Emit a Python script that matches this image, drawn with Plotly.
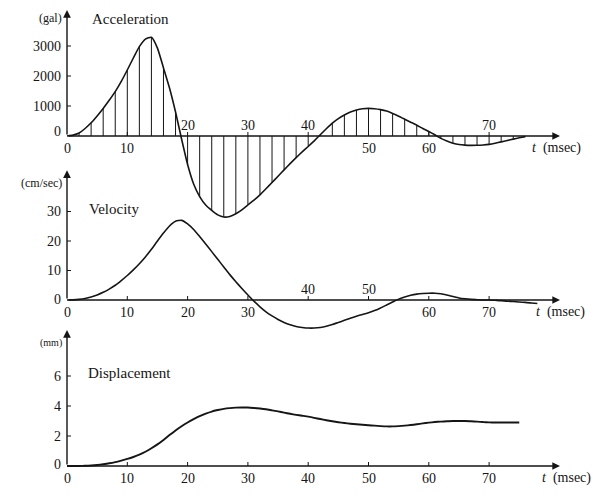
import plotly.graph_objects as go

# ---------------- data ----------------
acc_t = list(range(0, 77))
acc_gal = [0, 30, 100, 250, 440, 670, 920, 1190, 1480, 1820,
           2200, 2600, 2980, 3230, 3290, 2930, 2270, 1600, 800, -100,
           -950, -1600, -2020, -2300, -2480, -2630, -2700, -2680, -2590, -2460,
           -2300, -2140, -1960, -1760, -1550, -1340, -1130, -920, -720, -530,
           -350, -160, 40, 240, 430, 580, 700, 800, 870, 910,
           920, 910, 880, 830, 750, 660, 560, 460, 360, 250,
           150, 40, -80, -170, -240, -285, -305, -312, -308, -298,
           -278, -240, -195, -150, -105, -60, -20]

vel_t = list(range(0, 79))
vel_cms = [0, 0.05, 0.2, 0.5, 1.0, 1.7, 2.6, 3.7, 5.0, 6.6,
           8.3, 10.2, 12.3, 14.6, 17.2, 20.0, 22.7, 25.1, 26.7, 27.0,
           25.8, 23.9, 21.5, 19.0, 16.4, 13.8, 11.2, 8.6, 6.2, 3.9,
           1.7, -0.4, -2.3, -4.0, -5.4, -6.6, -7.6, -8.4, -9.0, -9.3,
           -9.5, -9.5, -9.3, -8.9, -8.3, -7.6, -6.9, -6.2, -5.5, -4.9,
           -4.3, -3.6, -2.7, -1.7, -0.7, 0.3, 1.0, 1.6, 2.0, 2.2,
           2.3, 2.3, 2.1, 1.7, 1.2, 0.7, 0.4, 0.2, 0.1, 0.0,
           0.0, -0.1, -0.2, -0.4, -0.5, -0.7, -0.8, -1.0, -1.2]

dis_t = list(range(0, 76))
dis_mm = [0, 0, 0.005, 0.015, 0.035, 0.07, 0.12, 0.18, 0.26, 0.36,
          0.47, 0.6, 0.76, 0.95, 1.18, 1.44, 1.74, 2.06, 2.37, 2.65,
          2.9, 3.12, 3.32, 3.49, 3.63, 3.73, 3.81, 3.86, 3.89, 3.9,
          3.9, 3.87, 3.83, 3.78, 3.71, 3.64, 3.56, 3.48, 3.41, 3.35,
          3.29, 3.21, 3.13, 3.05, 2.98, 2.92, 2.87, 2.82, 2.78, 2.75,
          2.72, 2.69, 2.66, 2.64, 2.64, 2.66, 2.69, 2.73, 2.78, 2.84,
          2.89, 2.93, 2.96, 2.98, 3.0, 3.0, 3.0, 2.98, 2.96, 2.93,
          2.91, 2.9, 2.9, 2.9, 2.9, 2.9]

hatch_step = 2  # hatching every 2 ms

acc_yticks = [0, 1000, 2000, 3000]
acc_yticklabels = ["0", "1000", "2000", "3000"]
vel_yticks = [0, 10, 20, 30]
vel_yticklabels = ["0", "10", "20", "30"]
dis_yticks = [0, 2, 4, 6]
dis_yticklabels = ["0", "2", "4", "6"]

t_ticks = [0, 10, 20, 30, 40, 50, 60, 70]
t_ticklabels = ["0", "10", "20", "30", "40", "50", "60", "70"]
acc_tick_above = [False, False, True, True, True, False, False, True]
vel_tick_above = [False, False, False, False, True, True, False, False]
dis_tick_above = [False] * 8

panel_titles = ["Acceleration", "Velocity", "Displacement"]
panel_units = ["(gal)", "(cm/sec)", "(mm)"]

# ---------------- geometry (pixel frame 595x495) ----------------
W, H = 595, 495
PX_MS = 6.03
X0 = 67
x_range = [-X0 / PX_MS, (W - X0) / PX_MS]

def yrange(zero_px, px_per_unit):
    return [-(H - zero_px) / px_per_unit, zero_px / px_per_unit]

acc_rng = yrange(136, 0.030)
vel_rng = yrange(300, 2.95)
dis_rng = yrange(466, 15.0)

INK = "#151515"
FONT = "Liberation Serif, Times New Roman, DejaVu Serif, serif"
SPL = dict(shape="spline", smoothing=0.5)

fig = go.Figure()

fig.add_trace(go.Scatter(x=acc_t, y=acc_gal, mode="lines", yaxis="y",
                         line=dict(color=INK, width=1.6, **SPL),
                         hoverinfo="skip", showlegend=False))
hx, hy = [], []
for t, a in zip(acc_t, acc_gal):
    if t > 0 and t % hatch_step == 0:
        hx += [t, t, None]
        hy += [0, a, None]
fig.add_trace(go.Scatter(x=hx, y=hy, mode="lines", yaxis="y",
                         line=dict(color=INK, width=1),
                         hoverinfo="skip", showlegend=False))
fig.add_trace(go.Scatter(x=vel_t, y=vel_cms, mode="lines", yaxis="y2",
                         line=dict(color=INK, width=1.6, **SPL),
                         hoverinfo="skip", showlegend=False))
fig.add_trace(go.Scatter(x=dis_t, y=dis_mm, mode="lines", yaxis="y3",
                         line=dict(color=INK, width=1.9, **SPL),
                         hoverinfo="skip", showlegend=False))

annotations = []
shapes = []

x_axis_end = (560 - X0) / PX_MS

panels = [
    ("y", 4200, acc_yticks, acc_yticklabels, acc_tick_above, 0.030, 76.8, 5),
    ("y2", 44.0, vel_yticks, vel_yticklabels, vel_tick_above, 2.95, 77.5, 1),
    ("y3", 9.07, dis_yticks, dis_yticklabels, dis_tick_above, 15.0, 78.5, 2),
]

for yref, ytop, yt, ytl, above, ppu, tlab_x, zero_shift in panels:
    annotations.append(dict(x=x_axis_end, y=0, ax=0, ay=0, xref="x", yref=yref,
                            axref="x", ayref=yref, showarrow=True, arrowhead=2,
                            arrowsize=1.1, arrowwidth=1.4, arrowcolor=INK, text=""))
    annotations.append(dict(x=0, y=ytop, ax=0, ay=0, xref="x", yref=yref,
                            axref="x", ayref=yref, showarrow=True, arrowhead=2,
                            arrowsize=1.1, arrowwidth=1.4, arrowcolor=INK, text=""))
    for tv, tl, ab in zip(t_ticks, t_ticklabels, above):
        if tv > 0:
            shapes.append(dict(type="line", xref="x", yref=yref, x0=tv, x1=tv,
                               y0=0, y1=4 / ppu, line=dict(color=INK, width=1)))
        annotations.append(dict(x=tv, y=0, xref="x", yref=yref, text=tl,
                                showarrow=False, yanchor="middle",
                                yshift=11 if ab else -12,
                                font=dict(family=FONT, size=14, color=INK)))
    for yv, yl in zip(yt, ytl):
        if yv > 0:
            shapes.append(dict(type="line", xref="x", yref=yref, x0=0, x1=4 / PX_MS,
                               y0=yv, y1=yv, line=dict(color=INK, width=1)))
        annotations.append(dict(x=0, y=yv, xref="x", yref=yref, text=yl,
                                showarrow=False, xanchor="right", xshift=-4,
                                yshift=zero_shift if yv == 0 else 0,
                                font=dict(family=FONT, size=14, color=INK)))
    annotations.append(dict(x=tlab_x, y=0, xref="x", yref=yref,
                            text="<i>t</i>  (msec)", showarrow=False,
                            xanchor="left", yshift=-12,
                            font=dict(family=FONT, size=14, color=INK)))

def vy(px, zero_px, ppu):
    return (zero_px - px) / ppu

annotations += [
    dict(x=-3 / PX_MS, y=vy(18, 136, 0.030), xref="x", yref="y", text=panel_units[0],
         showarrow=False, xanchor="right", font=dict(family=FONT, size=12, color=INK)),
    dict(x=(90 - X0) / PX_MS, y=vy(19, 136, 0.030), xref="x", yref="y", text=panel_titles[0],
         showarrow=False, xanchor="left", font=dict(family=FONT, size=15, color=INK)),
    dict(x=-3 / PX_MS, y=vy(183, 300, 2.95), xref="x", yref="y2", text=panel_units[1],
         showarrow=False, xanchor="right", font=dict(family=FONT, size=12, color=INK)),
    dict(x=(87 - X0) / PX_MS, y=vy(209, 300, 2.95), xref="x", yref="y2", text=panel_titles[1],
         showarrow=False, xanchor="left", font=dict(family=FONT, size=15, color=INK)),
    dict(x=-3 / PX_MS, y=vy(343, 466, 15.0), xref="x", yref="y3", text=panel_units[2],
         showarrow=False, xanchor="right", font=dict(family=FONT, size=10, color=INK)),
    dict(x=(86 - X0) / PX_MS, y=vy(373, 466, 15.0), xref="x", yref="y3", text=panel_titles[2],
         showarrow=False, xanchor="left", font=dict(family=FONT, size=15, color=INK)),
]

fig.update_layout(
    width=W, height=H, autosize=False,
    margin=dict(l=0, r=0, t=0, b=0),
    paper_bgcolor="white", plot_bgcolor="white",
    font=dict(family=FONT, color=INK),
    xaxis=dict(range=x_range, visible=False, fixedrange=True),
    yaxis=dict(range=acc_rng, visible=False, domain=[0, 1]),
    yaxis2=dict(range=vel_rng, visible=False, overlaying="y"),
    yaxis3=dict(range=dis_rng, visible=False, overlaying="y"),
    annotations=annotations, shapes=shapes,
)

fig.write_html("out.html")
